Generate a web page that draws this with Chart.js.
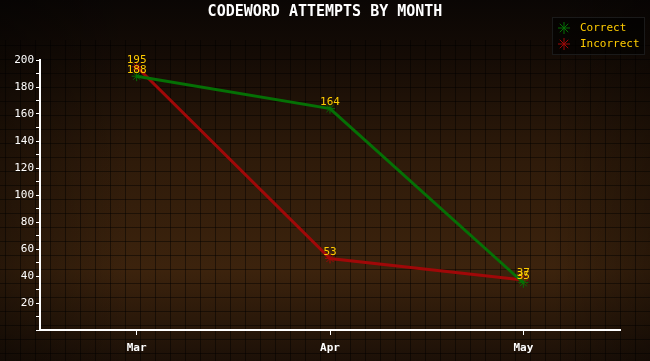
<!DOCTYPE html>
<html lang="en">
<head>
    <meta charset="UTF-8">
    <title>Codeword Attempts</title>
    <script src="https://cdn.jsdelivr.net/npm/chart.js"></script>
    <style>
        html, body { margin: 0; padding: 0; background: #000; }
        #wrap { width: 650px; height: 361px; }
    </style>
</head>
<body>
    <div id="wrap"><canvas id="attemptsChart" width="650" height="361"></canvas></div>

    <script>
        // Chart data
        const months = ['Mar', 'Apr', 'May'];
        const correct = [188, 164, 35];
        const incorrect = [195, 53, 37];
        const seriesNames = ['Correct', 'Incorrect'];
        const chartTitle = 'CODEWORD ATTEMPTS BY MONTH';

        const fontFamily = '"DejaVu Sans Mono", "Liberation Mono", monospace';

        // Dark brown backdrop with a faint grid, drawn before anything else
        const backdrop = {
            id: 'backdrop',
            beforeDraw(chart) {
                const ctx = chart.ctx;
                const w = chart.width, h = chart.height;
                ctx.save();
                const g = ctx.createLinearGradient(0, 0, 0, h);
                g.addColorStop(0, '#0a0604');
                g.addColorStop(0.15, '#140b05');
                g.addColorStop(0.45, '#2f1b0a');
                g.addColorStop(0.75, '#3c230d');
                g.addColorStop(1, '#1c1007');
                ctx.fillStyle = g;
                ctx.fillRect(0, 0, w, h);
                const side = ctx.createLinearGradient(0, 0, w, 0);
                side.addColorStop(0, 'rgba(0,0,0,0.35)');
                side.addColorStop(0.2, 'rgba(0,0,0,0)');
                side.addColorStop(0.85, 'rgba(0,0,0,0)');
                side.addColorStop(1, 'rgba(0,0,0,0.3)');
                ctx.fillStyle = side;
                ctx.fillRect(0, 0, w, h);
                ctx.strokeStyle = 'rgba(0,0,0,0.45)';
                ctx.lineWidth = 1;
                for (let x = 5.5; x < w; x += 15) {
                    ctx.beginPath(); ctx.moveTo(x, 40); ctx.lineTo(x, h); ctx.stroke();
                }
                for (let y = 45.5; y < h; y += 14) {
                    ctx.beginPath(); ctx.moveTo(0, y); ctx.lineTo(w, y); ctx.stroke();
                }
                ctx.restore();
            }
        };

        // Title, legend box and yellow value labels
        const overlay = {
            id: 'overlay',
            afterDraw(chart) {
                const ctx = chart.ctx;
                ctx.save();
                ctx.fillStyle = '#ffffff';
                ctx.font = 'bold 15px ' + fontFamily;
                ctx.textAlign = 'center';
                ctx.textBaseline = 'middle';
                ctx.fillText(chartTitle, 325, 12);

                // legend
                ctx.fillStyle = 'rgba(0,0,0,0.55)';
                ctx.fillRect(552, 17, 92, 37);
                ctx.strokeStyle = '#1a1a1a';
                ctx.strokeRect(552.5, 17.5, 92, 37);
                ctx.font = '11px ' + fontFamily;
                ctx.textAlign = 'left';
                chart.data.datasets.forEach((ds, i) => {
                    const y = 28 + i * 16;
                    drawStar(ctx, 564, y, 6, ds.borderColor);
                    ctx.fillStyle = '#ffcc00';
                    ctx.fillText(ds.label, 580, y);
                });

                // value labels
                ctx.font = '11px ' + fontFamily;
                ctx.textAlign = 'center';
                ctx.textBaseline = 'bottom';
                ctx.fillStyle = '#ffcc00';
                chart.data.datasets.forEach((ds, i) => {
                    chart.getDatasetMeta(i).data.forEach((pt, j) => {
                        ctx.fillText(ds.data[j], pt.x, pt.y - 1);
                    });
                });
                ctx.restore();
            }
        };

        function drawStar(ctx, x, y, r, color) {
            ctx.save();
            ctx.strokeStyle = color;
            ctx.lineWidth = 1;
            ctx.beginPath();
            for (let k = 0; k < 4; k++) {
                const a = k * Math.PI / 4;
                ctx.moveTo(x - r * Math.cos(a), y - r * Math.sin(a));
                ctx.lineTo(x + r * Math.cos(a), y + r * Math.sin(a));
            }
            ctx.stroke();
            ctx.restore();
        }

        new Chart(document.getElementById('attemptsChart').getContext('2d'), {
            type: 'line',
            data: {
                labels: months,
                datasets: [{
                    label: seriesNames[0],
                    data: correct,
                    borderColor: '#057005',
                    backgroundColor: '#057005',
                    borderWidth: 3,
                    pointStyle: 'star',
                    pointRadius: 5,
                    pointBorderWidth: 1,
                    tension: 0
                }, {
                    label: seriesNames[1],
                    data: incorrect,
                    borderColor: '#a00808',
                    backgroundColor: '#a00808',
                    borderWidth: 3,
                    pointStyle: 'star',
                    pointRadius: 5,
                    pointBorderWidth: 1,
                    tension: 0
                }]
            },
            options: {
                responsive: false,
                animation: false,
                layout: { padding: { top: 60, left: 0, right: 30, bottom: 0 } },
                plugins: {
                    legend: { display: false },
                    title: { display: false },
                    tooltip: { enabled: false }
                },
                scales: {
                    x: {
                        offset: true,
                        border: { color: '#ffffff', width: 2 },
                        grid: { drawOnChartArea: false, color: '#ffffff', tickLength: 5, offset: false },
                        ticks: { color: '#ffffff', font: { family: fontFamily, size: 11, weight: 'bold' }, padding: 7 },
                        afterFit(scale) { scale.height = 31; }
                    },
                    y: {
                        min: 0,
                        max: 200,
                        border: { color: '#ffffff', width: 2 },
                        grid: { drawOnChartArea: false, color: '#ffffff', tickLength: 4 },
                        ticks: {
                            stepSize: 10,
                            color: '#ffffff',
                            font: { family: fontFamily, size: 11 },
                            padding: 2,
                            autoSkip: false,
                            callback: v => (v % 20 === 0 && v !== 0) ? v : ''
                        },
                        afterFit(scale) { scale.width = 40; }
                    }
                }
            },
            plugins: [backdrop, overlay]
        });
    </script>
</body>
</html>
